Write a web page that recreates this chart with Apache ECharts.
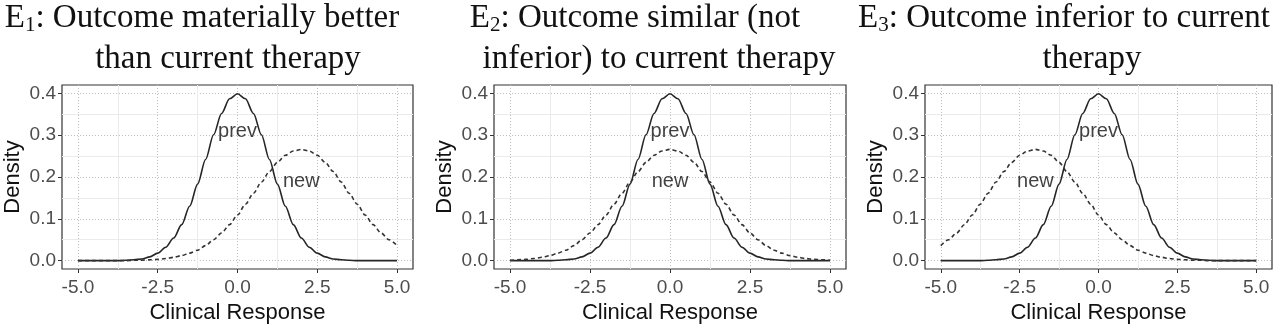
<!DOCTYPE html>
<html>
<head>
<meta charset="utf-8">
<script src="https://cdn.jsdelivr.net/npm/echarts@6/dist/echarts.min.js"></script>
<style>
  html, body { margin: 0; padding: 0; background: #fff; }
  #chart { width: 1280px; height: 325px; }
</style>
</head>
<body>
<div id="chart"></div>
<script>
// x sample positions (Clinical Response)
const xs = [-5, -4.75, -4.5, -4.25, -4, -3.75, -3.5, -3.25, -3, -2.75, -2.5, -2.25, -2, -1.75, -1.5, -1.25, -1, -0.75, -0.5, -0.25,
  0, 0.25, 0.5, 0.75, 1, 1.25, 1.5, 1.75, 2, 2.25, 2.5, 2.75, 3, 3.25, 3.5, 3.75, 4, 4.25, 4.5, 4.75, 5]

// density of current therapy ("prev"), same in all panels
const prevDensity = [0, 0, 0, 0, 0, 0, 0.001, 0.002, 0.004, 0.009, 0.018, 0.032, 0.054, 0.086, 0.130, 0.183, 0.242, 0.301, 0.352, 0.387,
  0.399, 0.387, 0.352, 0.301, 0.242, 0.183, 0.130, 0.086, 0.054, 0.032, 0.018, 0.009, 0.004, 0.002, 0.001, 0, 0, 0, 0, 0, 0]

// density of new therapy per panel
const newE1 = [0, 0, 0, 0, 0, 0, 0, 0.001, 0.001, 0.002, 0.003, 0.005, 0.008, 0.012, 0.018, 0.025, 0.036, 0.050, 0.066, 0.086,
  0.109, 0.135, 0.161, 0.188, 0.213, 0.235, 0.252, 0.262, 0.266, 0.262, 0.252, 0.235, 0.213, 0.188, 0.161, 0.135, 0.109, 0.086, 0.066, 0.050, 0.036]
const newE2 = [0.001, 0.002, 0.003, 0.005, 0.008, 0.012, 0.018, 0.025, 0.036, 0.050, 0.066, 0.086, 0.109, 0.135, 0.161, 0.188, 0.213, 0.235, 0.252, 0.262,
  0.266, 0.262, 0.252, 0.235, 0.213, 0.188, 0.161, 0.135, 0.109, 0.086, 0.066, 0.050, 0.036, 0.025, 0.018, 0.012, 0.008, 0.005, 0.003, 0.002, 0.001]
const newE3 = [0.036, 0.050, 0.066, 0.086, 0.109, 0.135, 0.161, 0.188, 0.213, 0.235, 0.252, 0.262, 0.266, 0.262, 0.252, 0.235, 0.213, 0.188, 0.161, 0.135,
  0.109, 0.086, 0.066, 0.050, 0.036, 0.025, 0.018, 0.012, 0.008, 0.005, 0.003, 0.002, 0.001, 0.001, 0, 0, 0, 0, 0, 0, 0]

const xTicks = [-5, -2.5, 0, 2.5, 5]
const xMinor = [-3.75, -1.25, 1.25, 3.75]
const yTicks = [0, 0.1, 0.2, 0.3, 0.4]
const yMinor = [0.05, 0.15, 0.25, 0.35]

const titleSub = ['1', '2', '3']
const titleLine1 = [': Outcome materially better', ': Outcome similar (not', ': Outcome inferior to current']
const titleLine2 = ['than current therapy', 'inferior) to current therapy', 'therapy']

// text annotation positions, data units
const prevLabelPos = [[0, 0.31], [0, 0.31], [0, 0.31]]
const newLabelPos = [[2, 0.19], [0, 0.19], [-2, 0.19]]

const newSeries = [newE1, newE2, newE3]

// layout
const gridLeft = [62, 494, 925]
const gridWidth = [351, 352, 347]
const line1Center = [202, 635, 1064]
const line2Center = [228, 659, 1092]

const SANS = 'Liberation Sans, Arial, sans-serif'
const SERIF = 'Liberation Serif, Times New Roman, serif'

const chart = echarts.init(document.getElementById('chart'))

const grid = []
const xAxis = []
const yAxis = []
const series = []
const title = []

for (let i = 0; i < 3; i++) {
  grid.push({
    left: gridLeft[i], top: 85, width: gridWidth[i], height: 184,
    containLabel: false, outerBoundsMode: 'none',
    show: true, borderColor: '#333', borderWidth: 1.2, backgroundColor: '#fff'
  })

  // major x axis
  xAxis.push({
    type: 'value', gridIndex: i, min: -5.5, max: 5.5, position: 'bottom',
    name: 'Clinical Response', nameLocation: 'middle', nameGap: 32,
    nameTextStyle: { fontFamily: SANS, fontSize: 22, color: '#111' },
    axisLine: { show: false, onZero: false },
    axisTick: { show: true, length: 4, customValues: xTicks, lineStyle: { color: '#333' } },
    axisLabel: { customValues: xTicks, margin: 9, fontFamily: SANS, fontSize: 19, color: '#4d4d4d',
      formatter: v => v.toFixed(1) },
    splitLine: { show: true, lineStyle: { color: '#bdbdbd', type: [1, 2], width: 1 } }
  })
  // minor x grid
  xAxis.push({
    type: 'value', gridIndex: i, min: -5.5, max: 5.5, position: 'top',
    axisLine: { show: false, onZero: false },
    axisTick: { show: false, customValues: xMinor },
    axisLabel: { show: false },
    splitLine: { show: true, lineStyle: { color: '#ebebeb', width: 1 } }
  })

  yAxis.push({
    type: 'value', gridIndex: i, min: -0.02, max: 0.42, position: 'left',
    name: 'Density', nameLocation: 'middle', nameGap: 38, nameRotate: 90,
    nameTextStyle: { fontFamily: SANS, fontSize: 22, color: '#111' },
    axisLine: { show: false, onZero: false },
    axisTick: { show: true, length: 4, customValues: yTicks, lineStyle: { color: '#333' } },
    axisLabel: { customValues: yTicks, margin: 6, fontFamily: SANS, fontSize: 19, color: '#4d4d4d',
      formatter: v => v.toFixed(1) },
    splitLine: { show: true, lineStyle: { color: '#bdbdbd', type: [1, 2], width: 1 } }
  })
  yAxis.push({
    type: 'value', gridIndex: i, min: -0.02, max: 0.42, position: 'right',
    axisLine: { show: false, onZero: false },
    axisTick: { show: false, customValues: yMinor },
    axisLabel: { show: false },
    splitLine: { show: true, lineStyle: { color: '#ebebeb', width: 1 } }
  })

  series.push({
    name: 'prev', type: 'line', xAxisIndex: 2 * i, yAxisIndex: 2 * i,
    data: xs.map((x, k) => [x, prevDensity[k]]),
    showSymbol: false, smooth: 0.3, smoothMonotone: 'x', z: 3,
    lineStyle: { color: '#262626', width: 1.6 }
  })
  series.push({
    name: 'new', type: 'line', xAxisIndex: 2 * i, yAxisIndex: 2 * i,
    data: xs.map((x, k) => [x, newSeries[i][k]]),
    showSymbol: false, smooth: 0.3, smoothMonotone: 'x', z: 3,
    lineStyle: { color: '#333', width: 1.6, type: [4, 3] }
  })
  series.push({
    type: 'scatter', xAxisIndex: 2 * i, yAxisIndex: 2 * i, symbolSize: 0, z: 4,
    data: [
      { name: 'prev', value: prevLabelPos[i] },
      { name: 'new', value: newLabelPos[i] }
    ],
    label: { show: true, position: 'inside', formatter: '{b}', fontFamily: SANS, fontSize: 20, color: '#111' }
  })

  const rich = {
    a: { fontFamily: SERIF, fontSize: 33, fontWeight: 'normal', color: '#111', lineHeight: 36 },
    s: { fontFamily: SERIF, fontSize: 21, fontWeight: 'normal', color: '#111', lineHeight: 26, verticalAlign: 'bottom' }
  }
  title.push({
    text: '{a|E}{s|' + titleSub[i] + '}{a|' + titleLine1[i] + '}',
    left: line1Center[i], top: 0, textAlign: 'center', padding: 0,
    textStyle: { fontWeight: 'normal', rich: rich }
  })
  title.push({
    text: titleLine2[i],
    left: line2Center[i], top: 41, textAlign: 'center', padding: 0,
    textStyle: { fontFamily: SERIF, fontSize: 33, fontWeight: 'normal', color: '#111', lineHeight: 36 }
  })
}

chart.setOption({
  animation: false,
  backgroundColor: '#fff',
  title: title,
  grid: grid,
  xAxis: xAxis,
  yAxis: yAxis,
  series: series
})

window.addEventListener('resize', () => chart.resize())
</script>
</body>
</html>
